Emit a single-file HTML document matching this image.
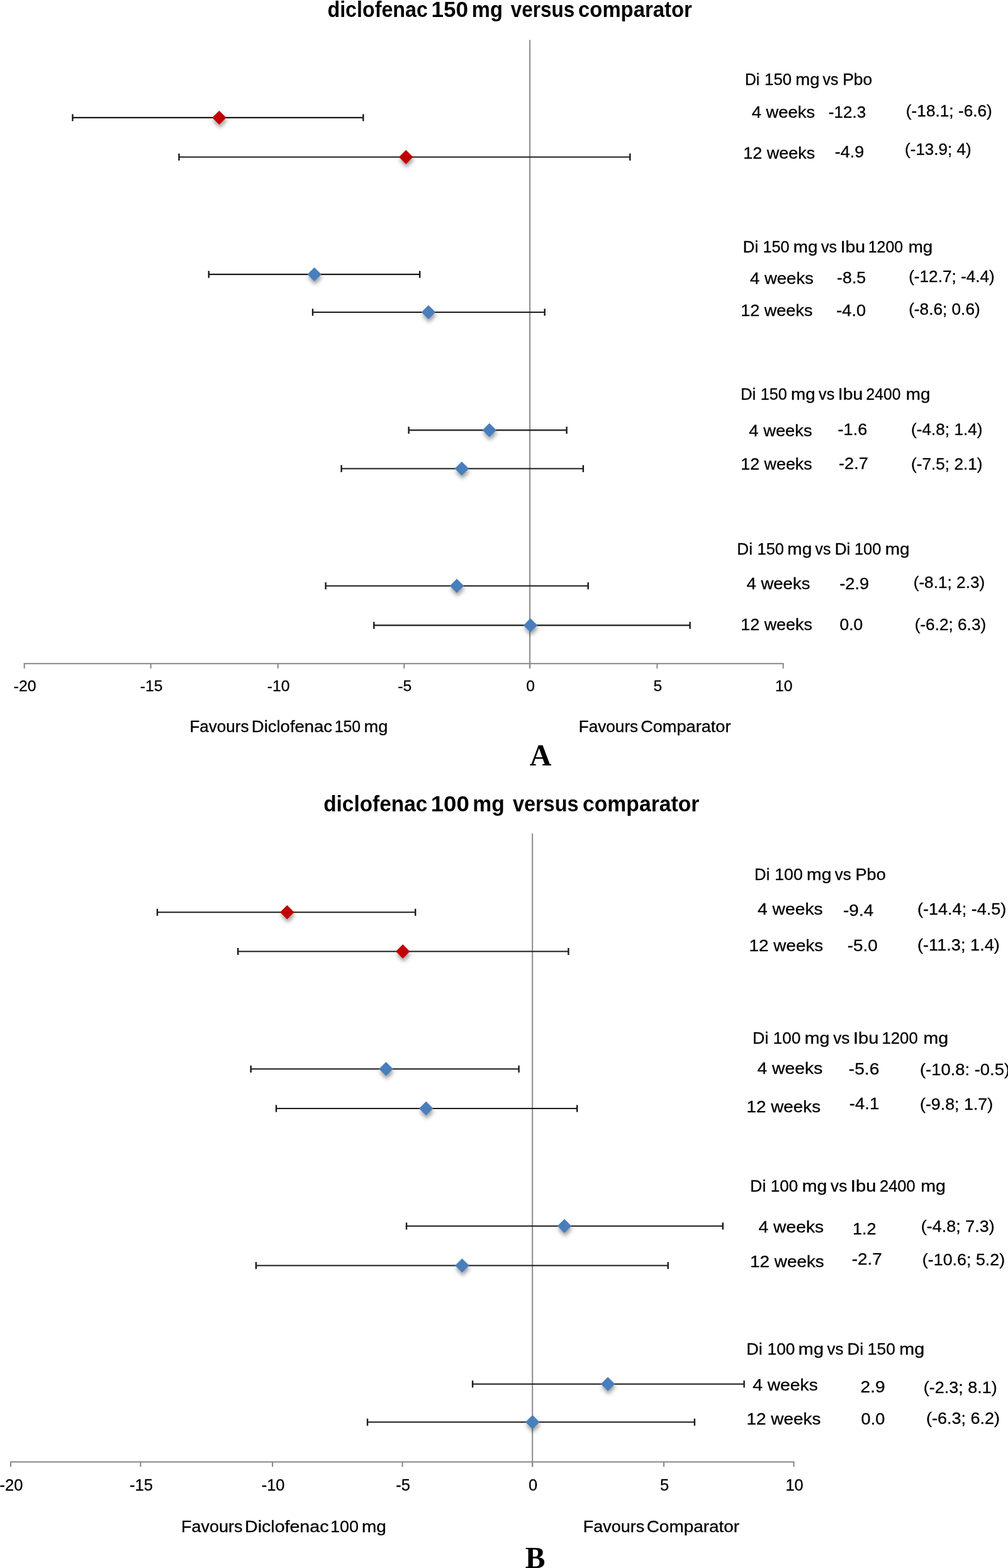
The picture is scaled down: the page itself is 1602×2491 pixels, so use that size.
<!DOCTYPE html><html><head><meta charset="utf-8"><title>diclofenac versus comparator</title><style>html,body{margin:0;padding:0;background:#fff;overflow:hidden}svg{display:block}text{white-space:pre}</style></head><body>
<svg width="1602" height="2491" viewBox="0 0 1602 2491">
<defs><filter id="sh" x="-60%" y="-60%" width="220%" height="240%"><feGaussianBlur in="SourceAlpha" stdDeviation="3.2"/><feOffset dx="0.5" dy="4.6" result="b"/><feFlood flood-color="#000" flood-opacity="0.38"/><feComposite in2="b" operator="in" result="s"/><feMerge><feMergeNode in="s"/><feMergeNode in="SourceGraphic"/></feMerge></filter></defs>
<rect width="1602" height="2491" fill="#fff"/>
<line x1="842.1" y1="63.4" x2="842.1" y2="1062" stroke="#8a8a8a" stroke-width="2.0"/>
<line x1="37.7" y1="1054.2" x2="1245.7" y2="1054.2" stroke="#868686" stroke-width="2.0"/>
<line x1="38.7" y1="1054.2" x2="38.7" y2="1062" stroke="#868686" stroke-width="2.0"/>
<line x1="239.6" y1="1054.2" x2="239.6" y2="1062" stroke="#868686" stroke-width="2.0"/>
<line x1="441.7" y1="1054.2" x2="441.7" y2="1062" stroke="#868686" stroke-width="2.0"/>
<line x1="642.3" y1="1054.2" x2="642.3" y2="1062" stroke="#868686" stroke-width="2.0"/>
<line x1="842.1" y1="1054.2" x2="842.1" y2="1062" stroke="#868686" stroke-width="2.0"/>
<line x1="1044.4" y1="1054.2" x2="1044.4" y2="1062" stroke="#868686" stroke-width="2.0"/>
<line x1="1244.7" y1="1054.2" x2="1244.7" y2="1062" stroke="#868686" stroke-width="2.0"/>
<text x="39.7" y="1098" text-anchor="middle" font-family="Liberation Sans" font-size="24.70" fill="#000" stroke="#000" stroke-width="0.3">-20</text>
<text x="240.6" y="1098" text-anchor="middle" font-family="Liberation Sans" font-size="24.70" fill="#000" stroke="#000" stroke-width="0.3">-15</text>
<text x="442.7" y="1098" text-anchor="middle" font-family="Liberation Sans" font-size="24.70" fill="#000" stroke="#000" stroke-width="0.3">-10</text>
<text x="643.3" y="1098" text-anchor="middle" font-family="Liberation Sans" font-size="24.70" fill="#000" stroke="#000" stroke-width="0.3">-5</text>
<text x="843.1" y="1098" text-anchor="middle" font-family="Liberation Sans" font-size="24.70" fill="#000" stroke="#000" stroke-width="0.3">0</text>
<text x="1045.4" y="1098" text-anchor="middle" font-family="Liberation Sans" font-size="24.70" fill="#000" stroke="#000" stroke-width="0.3">5</text>
<text x="1245.7" y="1098" text-anchor="middle" font-family="Liberation Sans" font-size="24.70" fill="#000" stroke="#000" stroke-width="0.3">10</text>
<line x1="115.4" y1="186.9" x2="577.3" y2="186.9" stroke="#1a1a1a" stroke-width="2.1"/>
<line x1="115.4" y1="181.3" x2="115.4" y2="192.5" stroke="#1a1a1a" stroke-width="2.4"/>
<line x1="577.3" y1="181.3" x2="577.3" y2="192.5" stroke="#1a1a1a" stroke-width="2.4"/>
<line x1="284.5" y1="249.5" x2="1001.3" y2="249.5" stroke="#1a1a1a" stroke-width="2.1"/>
<line x1="284.5" y1="243.9" x2="284.5" y2="255.1" stroke="#1a1a1a" stroke-width="2.4"/>
<line x1="1001.3" y1="243.9" x2="1001.3" y2="255.1" stroke="#1a1a1a" stroke-width="2.4"/>
<line x1="331.8" y1="435.9" x2="667.2" y2="435.9" stroke="#1a1a1a" stroke-width="2.1"/>
<line x1="331.8" y1="430.3" x2="331.8" y2="441.5" stroke="#1a1a1a" stroke-width="2.4"/>
<line x1="667.2" y1="430.3" x2="667.2" y2="441.5" stroke="#1a1a1a" stroke-width="2.4"/>
<line x1="497" y1="496" x2="865.7" y2="496" stroke="#1a1a1a" stroke-width="2.1"/>
<line x1="497" y1="490.4" x2="497" y2="501.6" stroke="#1a1a1a" stroke-width="2.4"/>
<line x1="865.7" y1="490.4" x2="865.7" y2="501.6" stroke="#1a1a1a" stroke-width="2.4"/>
<line x1="649.6" y1="683.4" x2="900.6" y2="683.4" stroke="#1a1a1a" stroke-width="2.1"/>
<line x1="649.6" y1="677.8" x2="649.6" y2="689" stroke="#1a1a1a" stroke-width="2.4"/>
<line x1="900.6" y1="677.8" x2="900.6" y2="689" stroke="#1a1a1a" stroke-width="2.4"/>
<line x1="542.6" y1="744.5" x2="926.9" y2="744.5" stroke="#1a1a1a" stroke-width="2.1"/>
<line x1="542.6" y1="738.9" x2="542.6" y2="750.1" stroke="#1a1a1a" stroke-width="2.4"/>
<line x1="926.9" y1="738.9" x2="926.9" y2="750.1" stroke="#1a1a1a" stroke-width="2.4"/>
<line x1="517.6" y1="930.7" x2="934.7" y2="930.7" stroke="#1a1a1a" stroke-width="2.1"/>
<line x1="517.6" y1="925.1" x2="517.6" y2="936.3" stroke="#1a1a1a" stroke-width="2.4"/>
<line x1="934.7" y1="925.1" x2="934.7" y2="936.3" stroke="#1a1a1a" stroke-width="2.4"/>
<line x1="594.3" y1="993.4" x2="1096.6" y2="993.4" stroke="#1a1a1a" stroke-width="2.1"/>
<line x1="594.3" y1="987.8" x2="594.3" y2="999" stroke="#1a1a1a" stroke-width="2.4"/>
<line x1="1096.6" y1="987.8" x2="1096.6" y2="999" stroke="#1a1a1a" stroke-width="2.4"/>
<path d="M348.4 175.7L359.6 186.9L348.4 198.1L337.2 186.9Z" fill="#C00000" filter="url(#sh)"/>
<path d="M645.2 238.3L656.4 249.5L645.2 260.7L634 249.5Z" fill="#C00000" filter="url(#sh)"/>
<path d="M499.6 424.7L510.8 435.9L499.6 447.1L488.4 435.9Z" fill="#4A7EBB" filter="url(#sh)"/>
<path d="M680.9 484.8L692.1 496L680.9 507.2L669.7 496Z" fill="#4A7EBB" filter="url(#sh)"/>
<path d="M777.8 672.2L789 683.4L777.8 694.6L766.6 683.4Z" fill="#4A7EBB" filter="url(#sh)"/>
<path d="M733.9 733.3L745.1 744.5L733.9 755.7L722.7 744.5Z" fill="#4A7EBB" filter="url(#sh)"/>
<path d="M726 919.5L737.2 930.7L726 941.9L714.8 930.7Z" fill="#4A7EBB" filter="url(#sh)"/>
<path d="M843 982.2L854.2 993.4L843 1004.6L831.8 993.4Z" fill="#4A7EBB" filter="url(#sh)"/>
<line x1="846.2" y1="1324.1" x2="846.2" y2="2330.3" stroke="#8a8a8a" stroke-width="2.0"/>
<line x1="16" y1="2322.5" x2="1262.6" y2="2322.5" stroke="#868686" stroke-width="2.0"/>
<line x1="17" y1="2322.5" x2="17" y2="2330.3" stroke="#868686" stroke-width="2.0"/>
<line x1="223.4" y1="2322.5" x2="223.4" y2="2330.3" stroke="#868686" stroke-width="2.0"/>
<line x1="433.1" y1="2322.5" x2="433.1" y2="2330.3" stroke="#868686" stroke-width="2.0"/>
<line x1="639.6" y1="2322.5" x2="639.6" y2="2330.3" stroke="#868686" stroke-width="2.0"/>
<line x1="846.2" y1="2322.5" x2="846.2" y2="2330.3" stroke="#868686" stroke-width="2.0"/>
<line x1="1055.1" y1="2322.5" x2="1055.1" y2="2330.3" stroke="#868686" stroke-width="2.0"/>
<line x1="1261.6" y1="2322.5" x2="1261.6" y2="2330.3" stroke="#868686" stroke-width="2.0"/>
<text x="18" y="2368" text-anchor="middle" font-family="Liberation Sans" font-size="25.49" fill="#000" stroke="#000" stroke-width="0.3">-20</text>
<text x="224.4" y="2368" text-anchor="middle" font-family="Liberation Sans" font-size="25.49" fill="#000" stroke="#000" stroke-width="0.3">-15</text>
<text x="434.1" y="2368" text-anchor="middle" font-family="Liberation Sans" font-size="25.49" fill="#000" stroke="#000" stroke-width="0.3">-10</text>
<text x="640.6" y="2368" text-anchor="middle" font-family="Liberation Sans" font-size="25.49" fill="#000" stroke="#000" stroke-width="0.3">-5</text>
<text x="847.2" y="2368" text-anchor="middle" font-family="Liberation Sans" font-size="25.49" fill="#000" stroke="#000" stroke-width="0.3">0</text>
<text x="1056.1" y="2368" text-anchor="middle" font-family="Liberation Sans" font-size="25.49" fill="#000" stroke="#000" stroke-width="0.3">5</text>
<text x="1262.6" y="2368" text-anchor="middle" font-family="Liberation Sans" font-size="25.49" fill="#000" stroke="#000" stroke-width="0.3">10</text>
<line x1="250" y1="1449.3" x2="660.2" y2="1449.3" stroke="#1a1a1a" stroke-width="2.1"/>
<line x1="250" y1="1443.7" x2="250" y2="1454.9" stroke="#1a1a1a" stroke-width="2.4"/>
<line x1="660.2" y1="1443.7" x2="660.2" y2="1454.9" stroke="#1a1a1a" stroke-width="2.4"/>
<line x1="378.2" y1="1511.5" x2="903.4" y2="1511.5" stroke="#1a1a1a" stroke-width="2.1"/>
<line x1="378.2" y1="1505.9" x2="378.2" y2="1517.1" stroke="#1a1a1a" stroke-width="2.4"/>
<line x1="903.4" y1="1505.9" x2="903.4" y2="1517.1" stroke="#1a1a1a" stroke-width="2.4"/>
<line x1="398.7" y1="1698.3" x2="824.6" y2="1698.3" stroke="#1a1a1a" stroke-width="2.1"/>
<line x1="398.7" y1="1692.7" x2="398.7" y2="1703.9" stroke="#1a1a1a" stroke-width="2.4"/>
<line x1="824.6" y1="1692.7" x2="824.6" y2="1703.9" stroke="#1a1a1a" stroke-width="2.4"/>
<line x1="439" y1="1761" x2="917.2" y2="1761" stroke="#1a1a1a" stroke-width="2.1"/>
<line x1="439" y1="1755.4" x2="439" y2="1766.6" stroke="#1a1a1a" stroke-width="2.4"/>
<line x1="917.2" y1="1755.4" x2="917.2" y2="1766.6" stroke="#1a1a1a" stroke-width="2.4"/>
<line x1="646" y1="1947.8" x2="1148.8" y2="1947.8" stroke="#1a1a1a" stroke-width="2.1"/>
<line x1="646" y1="1942.2" x2="646" y2="1953.4" stroke="#1a1a1a" stroke-width="2.4"/>
<line x1="1148.8" y1="1942.2" x2="1148.8" y2="1953.4" stroke="#1a1a1a" stroke-width="2.4"/>
<line x1="406.9" y1="2010.5" x2="1061.7" y2="2010.5" stroke="#1a1a1a" stroke-width="2.1"/>
<line x1="406.9" y1="2004.9" x2="406.9" y2="2016.1" stroke="#1a1a1a" stroke-width="2.4"/>
<line x1="1061.7" y1="2004.9" x2="1061.7" y2="2016.1" stroke="#1a1a1a" stroke-width="2.4"/>
<line x1="751.1" y1="2198.8" x2="1182.6" y2="2198.8" stroke="#1a1a1a" stroke-width="2.1"/>
<line x1="751.1" y1="2193.2" x2="751.1" y2="2204.4" stroke="#1a1a1a" stroke-width="2.4"/>
<line x1="1182.6" y1="2193.2" x2="1182.6" y2="2204.4" stroke="#1a1a1a" stroke-width="2.4"/>
<line x1="584" y1="2259.3" x2="1103.9" y2="2259.3" stroke="#1a1a1a" stroke-width="2.1"/>
<line x1="584" y1="2253.7" x2="584" y2="2264.9" stroke="#1a1a1a" stroke-width="2.4"/>
<line x1="1103.9" y1="2253.7" x2="1103.9" y2="2264.9" stroke="#1a1a1a" stroke-width="2.4"/>
<path d="M456.3 1438.1L467.5 1449.3L456.3 1460.5L445.1 1449.3Z" fill="#C00000" filter="url(#sh)"/>
<path d="M640.2 1500.3L651.4 1511.5L640.2 1522.7L629 1511.5Z" fill="#C00000" filter="url(#sh)"/>
<path d="M613.5 1687.1L624.7 1698.3L613.5 1709.5L602.3 1698.3Z" fill="#4A7EBB" filter="url(#sh)"/>
<path d="M677.2 1749.8L688.4 1761L677.2 1772.2L666 1761Z" fill="#4A7EBB" filter="url(#sh)"/>
<path d="M897 1936.6L908.2 1947.8L897 1959L885.8 1947.8Z" fill="#4A7EBB" filter="url(#sh)"/>
<path d="M734.4 1999.3L745.6 2010.5L734.4 2021.7L723.2 2010.5Z" fill="#4A7EBB" filter="url(#sh)"/>
<path d="M966.1 2187.6L977.3 2198.8L966.1 2210L954.9 2198.8Z" fill="#4A7EBB" filter="url(#sh)"/>
<path d="M846.3 2248.1L857.5 2259.3L846.3 2270.5L835.1 2259.3Z" fill="#4A7EBB" filter="url(#sh)"/>
<text transform="translate(520.44 26.7) scale(0.9373 1)" font-family="Liberation Sans" font-weight="bold" font-size="34.40" fill="#000">diclofenac</text>
<text transform="translate(685.56 26.7) scale(1.0199 1)" font-family="Liberation Sans" font-weight="bold" font-size="34.40" fill="#000">150</text>
<text transform="translate(749.79 26.7) scale(0.9533 1)" font-family="Liberation Sans" font-weight="bold" font-size="34.40" fill="#000">mg</text>
<text transform="translate(811.7 26.7) scale(0.9147 1)" font-family="Liberation Sans" font-weight="bold" font-size="34.40" fill="#000">versus</text>
<text transform="translate(919.08 26.7) scale(0.9551 1)" font-family="Liberation Sans" font-weight="bold" font-size="34.40" fill="#000">comparator</text>
<text transform="translate(1184.07 134.7) scale(0.9630 1)" font-family="Liberation Sans" font-size="25.60" fill="#000" stroke="#000" stroke-width="0.3">Di</text>
<text transform="translate(1215.08 134.7) scale(1.0084 1)" font-family="Liberation Sans" font-size="25.60" fill="#000" stroke="#000" stroke-width="0.3">150</text>
<text transform="translate(1264.24 134.7) scale(1.0794 1)" font-family="Liberation Sans" font-size="25.60" fill="#000" stroke="#000" stroke-width="0.3">mg</text>
<text transform="translate(1307.62 134.7) scale(0.9695 1)" font-family="Liberation Sans" font-size="25.60" fill="#000" stroke="#000" stroke-width="0.3">vs</text>
<text transform="translate(1339.22 134.7) scale(1.0337 1)" font-family="Liberation Sans" font-size="25.60" fill="#000" stroke="#000" stroke-width="0.3">Pbo</text>
<text transform="translate(1194.63 187.3) scale(1.0712 1)" font-family="Liberation Sans" font-size="25.60" fill="#000" stroke="#000" stroke-width="0.3">4 weeks</text>
<text transform="translate(1316.71 186.6) scale(1.0210 1)" font-family="Liberation Sans" font-size="25.60" fill="#000" stroke="#000" stroke-width="0.3">-12.3</text>
<text transform="translate(1439.85 184.9) scale(1.0246 1)" font-family="Liberation Sans" font-size="25.60" fill="#000" stroke="#000" stroke-width="0.3">(-18.1; -6.6)</text>
<text transform="translate(1181.29 251.6) scale(1.0534 1)" font-family="Liberation Sans" font-size="25.60" fill="#000" stroke="#000" stroke-width="0.3">12 weeks</text>
<text transform="translate(1326.77 250.4) scale(1.0567 1)" font-family="Liberation Sans" font-size="25.60" fill="#000" stroke="#000" stroke-width="0.3">-4.9</text>
<text transform="translate(1438.07 245.7) scale(1.0170 1)" font-family="Liberation Sans" font-size="25.60" fill="#000" stroke="#000" stroke-width="0.3">(-13.9; 4)</text>
<text transform="translate(1180.87 401.2) scale(1.0072 1)" font-family="Liberation Sans" font-size="25.60" fill="#000" stroke="#000" stroke-width="0.3">Di</text>
<text transform="translate(1212.53 401.2) scale(0.9857 1)" font-family="Liberation Sans" font-size="25.60" fill="#000" stroke="#000" stroke-width="0.3">150</text>
<text transform="translate(1260.82 401.2) scale(1.0889 1)" font-family="Liberation Sans" font-size="25.60" fill="#000" stroke="#000" stroke-width="0.3">mg</text>
<text transform="translate(1304.92 401.2) scale(0.9819 1)" font-family="Liberation Sans" font-size="25.60" fill="#000" stroke="#000" stroke-width="0.3">vs</text>
<text transform="translate(1335.66 401.2) scale(1.1099 1)" font-family="Liberation Sans" font-size="25.60" fill="#000" stroke="#000" stroke-width="0.3">Ibu</text>
<text transform="translate(1379.65 401.2) scale(0.9756 1)" font-family="Liberation Sans" font-size="25.60" fill="#000" stroke="#000" stroke-width="0.3">1200</text>
<text transform="translate(1443.63 401.2) scale(1.0857 1)" font-family="Liberation Sans" font-size="25.60" fill="#000" stroke="#000" stroke-width="0.3">mg</text>
<text transform="translate(1192.03 450.6) scale(1.0745 1)" font-family="Liberation Sans" font-size="25.60" fill="#000" stroke="#000" stroke-width="0.3">4 weeks</text>
<text transform="translate(1330.08 449.9) scale(1.0465 1)" font-family="Liberation Sans" font-size="25.60" fill="#000" stroke="#000" stroke-width="0.3">-8.5</text>
<text transform="translate(1444.16 447.8) scale(1.0215 1)" font-family="Liberation Sans" font-size="25.60" fill="#000" stroke="#000" stroke-width="0.3">(-12.7; -4.4)</text>
<text transform="translate(1177.19 502.4) scale(1.0563 1)" font-family="Liberation Sans" font-size="25.60" fill="#000" stroke="#000" stroke-width="0.3">12 weeks</text>
<text transform="translate(1329.26 502.1) scale(1.0634 1)" font-family="Liberation Sans" font-size="25.60" fill="#000" stroke="#000" stroke-width="0.3">-4.0</text>
<text transform="translate(1444.15 500.4) scale(1.0234 1)" font-family="Liberation Sans" font-size="25.60" fill="#000" stroke="#000" stroke-width="0.3">(-8.6; 0.6)</text>
<text transform="translate(1176.97 634.7) scale(1.0076 1)" font-family="Liberation Sans" font-size="25.60" fill="#000" stroke="#000" stroke-width="0.3">Di</text>
<text transform="translate(1208.64 634.7) scale(0.9860 1)" font-family="Liberation Sans" font-size="25.60" fill="#000" stroke="#000" stroke-width="0.3">150</text>
<text transform="translate(1256.95 634.7) scale(1.0892 1)" font-family="Liberation Sans" font-size="25.60" fill="#000" stroke="#000" stroke-width="0.3">mg</text>
<text transform="translate(1301.06 634.7) scale(0.9822 1)" font-family="Liberation Sans" font-size="25.60" fill="#000" stroke="#000" stroke-width="0.3">vs</text>
<text transform="translate(1331.81 634.7) scale(1.1103 1)" font-family="Liberation Sans" font-size="25.60" fill="#000" stroke="#000" stroke-width="0.3">Ibu</text>
<text transform="translate(1376.52 634.7) scale(0.9633 1)" font-family="Liberation Sans" font-size="25.60" fill="#000" stroke="#000" stroke-width="0.3">2400</text>
<text transform="translate(1439.82 634.7) scale(1.0861 1)" font-family="Liberation Sans" font-size="25.60" fill="#000" stroke="#000" stroke-width="0.3">mg</text>
<text transform="translate(1190.33 693.2) scale(1.0690 1)" font-family="Liberation Sans" font-size="25.60" fill="#000" stroke="#000" stroke-width="0.3">4 weeks</text>
<text transform="translate(1331.57 690.6) scale(1.0577 1)" font-family="Liberation Sans" font-size="25.60" fill="#000" stroke="#000" stroke-width="0.3">-1.6</text>
<text transform="translate(1448.06 691) scale(1.0224 1)" font-family="Liberation Sans" font-size="25.60" fill="#000" stroke="#000" stroke-width="0.3">(-4.8; 1.4)</text>
<text transform="translate(1177.2 745.9) scale(1.0496 1)" font-family="Liberation Sans" font-size="25.60" fill="#000" stroke="#000" stroke-width="0.3">12 weeks</text>
<text transform="translate(1333.07 745.1) scale(1.0597 1)" font-family="Liberation Sans" font-size="25.60" fill="#000" stroke="#000" stroke-width="0.3">-2.7</text>
<text transform="translate(1448.06 745.7) scale(1.0224 1)" font-family="Liberation Sans" font-size="25.60" fill="#000" stroke="#000" stroke-width="0.3">(-7.5; 2.1)</text>
<text transform="translate(1171.35 881) scale(1.0171 1)" font-family="Liberation Sans" font-size="25.60" fill="#000" stroke="#000" stroke-width="0.3">Di</text>
<text transform="translate(1203.51 881) scale(0.9958 1)" font-family="Liberation Sans" font-size="25.60" fill="#000" stroke="#000" stroke-width="0.3">150</text>
<text transform="translate(1251.3 881) scale(1.0983 1)" font-family="Liberation Sans" font-size="25.60" fill="#000" stroke="#000" stroke-width="0.3">mg</text>
<text transform="translate(1295.62 881) scale(0.9695 1)" font-family="Liberation Sans" font-size="25.60" fill="#000" stroke="#000" stroke-width="0.3">vs</text>
<text transform="translate(1326.64 881) scale(1.0220 1)" font-family="Liberation Sans" font-size="25.60" fill="#000" stroke="#000" stroke-width="0.3">Di</text>
<text transform="translate(1357.9 881) scale(0.9983 1)" font-family="Liberation Sans" font-size="25.60" fill="#000" stroke="#000" stroke-width="0.3">100</text>
<text transform="translate(1406.71 881) scale(1.0951 1)" font-family="Liberation Sans" font-size="25.60" fill="#000" stroke="#000" stroke-width="0.3">mg</text>
<text transform="translate(1186.53 935.9) scale(1.0745 1)" font-family="Liberation Sans" font-size="25.60" fill="#000" stroke="#000" stroke-width="0.3">4 weeks</text>
<text transform="translate(1334.26 935.9) scale(1.0663 1)" font-family="Liberation Sans" font-size="25.60" fill="#000" stroke="#000" stroke-width="0.3">-2.9</text>
<text transform="translate(1451.65 934.3) scale(1.0243 1)" font-family="Liberation Sans" font-size="25.60" fill="#000" stroke="#000" stroke-width="0.3">(-8.1; 2.3)</text>
<text transform="translate(1177.2 1000.6) scale(1.0525 1)" font-family="Liberation Sans" font-size="25.60" fill="#000" stroke="#000" stroke-width="0.3">12 weeks</text>
<text transform="translate(1334.4 1000.6) scale(1.0369 1)" font-family="Liberation Sans" font-size="25.60" fill="#000" stroke="#000" stroke-width="0.3">0.0</text>
<text transform="translate(1453.65 1000.5) scale(1.0234 1)" font-family="Liberation Sans" font-size="25.60" fill="#000" stroke="#000" stroke-width="0.3">(-6.2; 6.3)</text>
<text transform="translate(301.45 1163.4) scale(1.0092 1)" font-family="Liberation Sans" font-size="25.80" fill="#000" stroke="#000" stroke-width="0.3">Favours</text>
<text transform="translate(399.83 1163.4) scale(1.0653 1)" font-family="Liberation Sans" font-size="25.80" fill="#000" stroke="#000" stroke-width="0.3">Diclofenac</text>
<text transform="translate(531.68 1163.4) scale(0.9625 1)" font-family="Liberation Sans" font-size="25.80" fill="#000" stroke="#000" stroke-width="0.3">150</text>
<text transform="translate(578.59 1163.4) scale(1.0562 1)" font-family="Liberation Sans" font-size="25.80" fill="#000" stroke="#000" stroke-width="0.3">mg</text>
<text transform="translate(919.64 1163.4) scale(1.0148 1)" font-family="Liberation Sans" font-size="25.80" fill="#000" stroke="#000" stroke-width="0.3">Favours</text>
<text transform="translate(1018.15 1163.4) scale(1.0524 1)" font-family="Liberation Sans" font-size="25.80" fill="#000" stroke="#000" stroke-width="0.3">Comparator</text>
<text transform="translate(841.82 1216) scale(0.9994 1)" font-family="Liberation Serif" font-weight="bold" font-size="48.00" fill="#000">A</text>
<text transform="translate(514.2 1289) scale(0.9408 1)" font-family="Liberation Sans" font-weight="bold" font-size="35.50" fill="#000">diclofenac</text>
<text transform="translate(684.68 1289) scale(1.0310 1)" font-family="Liberation Sans" font-weight="bold" font-size="35.50" fill="#000">100</text>
<text transform="translate(751.33 1289) scale(0.9490 1)" font-family="Liberation Sans" font-weight="bold" font-size="35.50" fill="#000">mg</text>
<text transform="translate(814.99 1289) scale(0.9129 1)" font-family="Liberation Sans" font-weight="bold" font-size="35.50" fill="#000">versus</text>
<text transform="translate(926.04 1289) scale(0.9497 1)" font-family="Liberation Sans" font-weight="bold" font-size="35.50" fill="#000">comparator</text>
<text transform="translate(1199.07 1397.6) scale(0.9737 1)" font-family="Liberation Sans" font-size="26.42" fill="#000" stroke="#000" stroke-width="0.3">Di</text>
<text transform="translate(1231.2 1397.6) scale(1.0132 1)" font-family="Liberation Sans" font-size="26.42" fill="#000" stroke="#000" stroke-width="0.3">100</text>
<text transform="translate(1282.06 1397.6) scale(1.0766 1)" font-family="Liberation Sans" font-size="26.42" fill="#000" stroke="#000" stroke-width="0.3">mg</text>
<text transform="translate(1326.82 1397.6) scale(0.9833 1)" font-family="Liberation Sans" font-size="26.42" fill="#000" stroke="#000" stroke-width="0.3">vs</text>
<text transform="translate(1359.49 1397.6) scale(1.0278 1)" font-family="Liberation Sans" font-size="26.42" fill="#000" stroke="#000" stroke-width="0.3">Pbo</text>
<text transform="translate(1204.03 1452.9) scale(1.0698 1)" font-family="Liberation Sans" font-size="26.42" fill="#000" stroke="#000" stroke-width="0.3">4 weeks</text>
<text transform="translate(1340.03 1455.1) scale(1.0589 1)" font-family="Liberation Sans" font-size="26.42" fill="#000" stroke="#000" stroke-width="0.3">-9.4</text>
<text transform="translate(1457.95 1453.3) scale(1.0246 1)" font-family="Liberation Sans" font-size="26.42" fill="#000" stroke="#000" stroke-width="0.3">(-14.4; -4.5)</text>
<text transform="translate(1190.57 1511.4) scale(1.0548 1)" font-family="Liberation Sans" font-size="26.42" fill="#000" stroke="#000" stroke-width="0.3">12 weeks</text>
<text transform="translate(1346.73 1511.1) scale(1.0583 1)" font-family="Liberation Sans" font-size="26.42" fill="#000" stroke="#000" stroke-width="0.3">-5.0</text>
<text transform="translate(1457.94 1509.8) scale(1.0298 1)" font-family="Liberation Sans" font-size="26.42" fill="#000" stroke="#000" stroke-width="0.3">(-11.3; 1.4)</text>
<text transform="translate(1196.07 1658.1) scale(1.0173 1)" font-family="Liberation Sans" font-size="26.42" fill="#000" stroke="#000" stroke-width="0.3">Di</text>
<text transform="translate(1228.83 1658.1) scale(0.9893 1)" font-family="Liberation Sans" font-size="26.42" fill="#000" stroke="#000" stroke-width="0.3">100</text>
<text transform="translate(1278.74 1658.1) scale(1.0849 1)" font-family="Liberation Sans" font-size="26.42" fill="#000" stroke="#000" stroke-width="0.3">mg</text>
<text transform="translate(1324.19 1658.1) scale(0.9948 1)" font-family="Liberation Sans" font-size="26.42" fill="#000" stroke="#000" stroke-width="0.3">vs</text>
<text transform="translate(1355.95 1658.1) scale(1.1079 1)" font-family="Liberation Sans" font-size="26.42" fill="#000" stroke="#000" stroke-width="0.3">Ibu</text>
<text transform="translate(1401.41 1658.1) scale(0.9775 1)" font-family="Liberation Sans" font-size="26.42" fill="#000" stroke="#000" stroke-width="0.3">1200</text>
<text transform="translate(1467.51 1658.1) scale(1.0817 1)" font-family="Liberation Sans" font-size="26.42" fill="#000" stroke="#000" stroke-width="0.3">mg</text>
<text transform="translate(1203.53 1706.1) scale(1.0708 1)" font-family="Liberation Sans" font-size="26.42" fill="#000" stroke="#000" stroke-width="0.3">4 weeks</text>
<text transform="translate(1348.72 1707.1) scale(1.0700 1)" font-family="Liberation Sans" font-size="26.42" fill="#000" stroke="#000" stroke-width="0.3">-5.6</text>
<text transform="translate(1461.93 1708.3) scale(1.0373 1)" font-family="Liberation Sans" font-size="26.42" fill="#000" stroke="#000" stroke-width="0.3">(-10.8: -0.5)</text>
<text transform="translate(1186.57 1766.8) scale(1.0539 1)" font-family="Liberation Sans" font-size="26.42" fill="#000" stroke="#000" stroke-width="0.3">12 weeks</text>
<text transform="translate(1349.75 1761.6) scale(1.0466 1)" font-family="Liberation Sans" font-size="26.42" fill="#000" stroke="#000" stroke-width="0.3">-4.1</text>
<text transform="translate(1461.97 1763.1) scale(1.0157 1)" font-family="Liberation Sans" font-size="26.42" fill="#000" stroke="#000" stroke-width="0.3">(-9.8; 1.7)</text>
<text transform="translate(1192.07 1892.5) scale(1.0167 1)" font-family="Liberation Sans" font-size="26.42" fill="#000" stroke="#000" stroke-width="0.3">Di</text>
<text transform="translate(1224.81 1892.5) scale(0.9887 1)" font-family="Liberation Sans" font-size="26.42" fill="#000" stroke="#000" stroke-width="0.3">100</text>
<text transform="translate(1274.69 1892.5) scale(1.0842 1)" font-family="Liberation Sans" font-size="26.42" fill="#000" stroke="#000" stroke-width="0.3">mg</text>
<text transform="translate(1320.11 1892.5) scale(0.9941 1)" font-family="Liberation Sans" font-size="26.42" fill="#000" stroke="#000" stroke-width="0.3">vs</text>
<text transform="translate(1351.85 1892.5) scale(1.1072 1)" font-family="Liberation Sans" font-size="26.42" fill="#000" stroke="#000" stroke-width="0.3">Ibu</text>
<text transform="translate(1397.95 1892.5) scale(0.9651 1)" font-family="Liberation Sans" font-size="26.42" fill="#000" stroke="#000" stroke-width="0.3">2400</text>
<text transform="translate(1463.34 1892.5) scale(1.0810 1)" font-family="Liberation Sans" font-size="26.42" fill="#000" stroke="#000" stroke-width="0.3">mg</text>
<text transform="translate(1205.53 1957.9) scale(1.0698 1)" font-family="Liberation Sans" font-size="26.42" fill="#000" stroke="#000" stroke-width="0.3">4 weeks</text>
<text transform="translate(1354.92 1961.3) scale(1.0279 1)" font-family="Liberation Sans" font-size="26.42" fill="#000" stroke="#000" stroke-width="0.3">1.2</text>
<text transform="translate(1463.86 1957.2) scale(1.0203 1)" font-family="Liberation Sans" font-size="26.42" fill="#000" stroke="#000" stroke-width="0.3">(-4.8; 7.3)</text>
<text transform="translate(1192.07 2013.1) scale(1.0548 1)" font-family="Liberation Sans" font-size="26.42" fill="#000" stroke="#000" stroke-width="0.3">12 weeks</text>
<text transform="translate(1353.73 2008.6) scale(1.0583 1)" font-family="Liberation Sans" font-size="26.42" fill="#000" stroke="#000" stroke-width="0.3">-2.7</text>
<text transform="translate(1465.87 2009.9) scale(1.0168 1)" font-family="Liberation Sans" font-size="26.42" fill="#000" stroke="#000" stroke-width="0.3">(-10.6; 5.2)</text>
<text transform="translate(1186.25 2151.8) scale(1.0265 1)" font-family="Liberation Sans" font-size="26.42" fill="#000" stroke="#000" stroke-width="0.3">Di</text>
<text transform="translate(1219.5 2151.8) scale(0.9987 1)" font-family="Liberation Sans" font-size="26.42" fill="#000" stroke="#000" stroke-width="0.3">100</text>
<text transform="translate(1268.86 2151.8) scale(1.0934 1)" font-family="Liberation Sans" font-size="26.42" fill="#000" stroke="#000" stroke-width="0.3">mg</text>
<text transform="translate(1314.51 2151.8) scale(0.9815 1)" font-family="Liberation Sans" font-size="26.42" fill="#000" stroke="#000" stroke-width="0.3">vs</text>
<text transform="translate(1346.48 2151.8) scale(1.0314 1)" font-family="Liberation Sans" font-size="26.42" fill="#000" stroke="#000" stroke-width="0.3">Di</text>
<text transform="translate(1378.81 2151.8) scale(1.0012 1)" font-family="Liberation Sans" font-size="26.42" fill="#000" stroke="#000" stroke-width="0.3">150</text>
<text transform="translate(1429.21 2151.8) scale(1.0903 1)" font-family="Liberation Sans" font-size="26.42" fill="#000" stroke="#000" stroke-width="0.3">mg</text>
<text transform="translate(1196.13 2208.6) scale(1.0698 1)" font-family="Liberation Sans" font-size="26.42" fill="#000" stroke="#000" stroke-width="0.3">4 weeks</text>
<text transform="translate(1367.47 2212.3) scale(1.0667 1)" font-family="Liberation Sans" font-size="26.42" fill="#000" stroke="#000" stroke-width="0.3">2.9</text>
<text transform="translate(1467.86 2212.6) scale(1.0212 1)" font-family="Liberation Sans" font-size="26.42" fill="#000" stroke="#000" stroke-width="0.3">(-2.3; 8.1)</text>
<text transform="translate(1186.57 2263.1) scale(1.0567 1)" font-family="Liberation Sans" font-size="26.42" fill="#000" stroke="#000" stroke-width="0.3">12 weeks</text>
<text transform="translate(1368.58 2263.1) scale(1.0289 1)" font-family="Liberation Sans" font-size="26.42" fill="#000" stroke="#000" stroke-width="0.3">0.0</text>
<text transform="translate(1472.06 2261.9) scale(1.0212 1)" font-family="Liberation Sans" font-size="26.42" fill="#000" stroke="#000" stroke-width="0.3">(-6.3; 6.2)</text>
<text transform="translate(287.96 2433.8) scale(1.0144 1)" font-family="Liberation Sans" font-size="26.63" fill="#000" stroke="#000" stroke-width="0.3">Favours</text>
<text transform="translate(389.03 2433.8) scale(1.0737 1)" font-family="Liberation Sans" font-size="26.63" fill="#000" stroke="#000" stroke-width="0.3">Diclofenac</text>
<text transform="translate(525.03 2433.8) scale(1.0132 1)" font-family="Liberation Sans" font-size="26.63" fill="#000" stroke="#000" stroke-width="0.3">100</text>
<text transform="translate(575 2433.8) scale(1.0515 1)" font-family="Liberation Sans" font-size="26.63" fill="#000" stroke="#000" stroke-width="0.3">mg</text>
<text transform="translate(926.87 2433.6) scale(1.0123 1)" font-family="Liberation Sans" font-size="26.63" fill="#000" stroke="#000" stroke-width="0.3">Favours</text>
<text transform="translate(1027.72 2433.6) scale(1.0484 1)" font-family="Liberation Sans" font-size="26.63" fill="#000" stroke="#000" stroke-width="0.3">Comparator</text>
<text transform="translate(834.84 2491) scale(0.9616 1)" font-family="Liberation Serif" font-weight="bold" font-size="49.54" fill="#000">B</text>
</svg></body></html>
